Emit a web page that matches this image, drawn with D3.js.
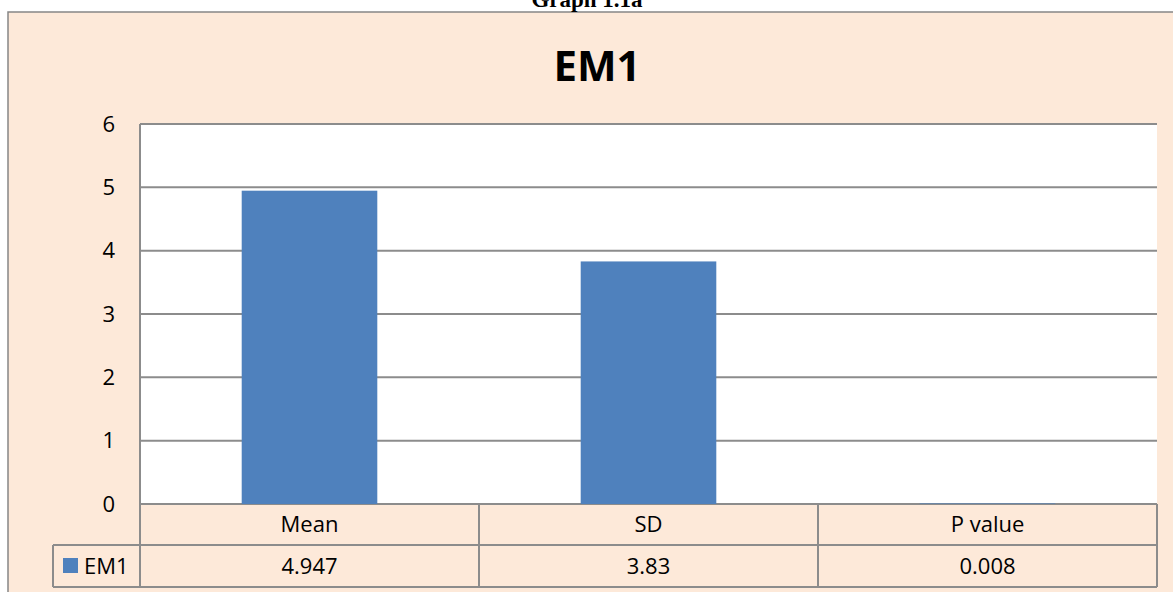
<!DOCTYPE html>
<html>
<head>
<meta charset="utf-8">
<script src="https://cdn.jsdelivr.net/npm/d3@7"></script>
<style>
  body { margin: 0; background: #fff; }
  text { font-family: "Open Sans", "Noto Sans", sans-serif; fill: #000; }
</style>
</head>
<body>
<div id="chart"></div>
<script>
// ---- data
var categories = ["Mean", "SD", "P value"];
var seriesName = "EM1";
var values = [4.947, 3.83, 0.008];
var valueLabels = ["4.947", "3.83", "0.008"];
var yTicks = [0, 1, 2, 3, 4, 5, 6];

var width = 1173, height = 592;
var plotL = 140, plotR = 1157, plotT = 124, plotB = 504;
var row1 = 545, row2 = 587, legL = 53;
var lineCol = "#8c8c8c";

var svg = d3.select("#chart").append("svg")
  .attr("width", width).attr("height", height);

// outer chart area
svg.append("rect")
  .attr("x", 8).attr("y", 12)
  .attr("width", 1180).attr("height", 600)
  .attr("fill", "#fde9d9")
  .attr("stroke", "#868686").attr("stroke-width", 1.5);

// caption above the chart (cut off at top in the original too)
svg.append("text")
  .attr("x", 587).attr("y", 7)
  .attr("text-anchor", "middle")
  .style("font-family", "'Liberation Serif', serif")
  .style("font-weight", "bold")
  .style("font-size", "23px")
  .text("Graph 1.1a");

// title
svg.append("text")
  .attr("x", 597).attr("y", 81)
  .attr("text-anchor", "middle")
  .style("font-weight", "bold")
  .style("font-size", "42px")
  .text(seriesName);

// scales
var x = d3.scaleBand().domain(categories)
  .range([plotL, plotR]).paddingInner(0.6).paddingOuter(0.3);
var xCol = d3.scaleBand().domain(categories).range([plotL, plotR]).padding(0);
var y = d3.scaleLinear().domain([0, 6]).range([plotB, plotT]);

// plot area
svg.append("rect")
  .attr("x", plotL).attr("y", plotT)
  .attr("width", plotR - plotL).attr("height", plotB - plotT)
  .attr("fill", "#fff");

// gridlines
svg.append("g").selectAll("line")
  .data(yTicks).join("line")
  .attr("x1", plotL).attr("x2", plotR)
  .attr("y1", d => y(d)).attr("y2", d => y(d))
  .attr("stroke", lineCol).attr("stroke-width", 2);

// left axis line
svg.append("line")
  .attr("x1", plotL).attr("x2", plotL)
  .attr("y1", plotT).attr("y2", row2)
  .attr("stroke", lineCol).attr("stroke-width", 2);

// y axis labels
var yAxis = d3.axisLeft(y).tickValues(yTicks).tickSize(0).tickPadding(25)
  .tickFormat(d3.format("d"));
var ya = svg.append("g").attr("transform", "translate(" + plotL + ",0)").call(yAxis);
ya.select(".domain").remove();
ya.selectAll("text")
  .style("font-family", "'Open Sans', sans-serif")
  .style("font-size", "22px").attr("fill", "#000");

// bars
svg.append("g").selectAll("rect")
  .data(values).join("rect")
  .attr("x", (d, i) => x(categories[i]))
  .attr("width", x.bandwidth())
  .attr("y", d => y(d))
  .attr("height", d => y(0) - y(d))
  .attr("fill", "#4f81bd");

// data table
var tbl = svg.append("g");
tbl.append("line").attr("x1", legL).attr("x2", plotR).attr("y1", row1).attr("y2", row1)
  .attr("stroke", lineCol).attr("stroke-width", 2);
tbl.append("line").attr("x1", legL).attr("x2", plotR).attr("y1", row2).attr("y2", row2)
  .attr("stroke", lineCol).attr("stroke-width", 2);
tbl.append("line").attr("x1", legL).attr("x2", legL).attr("y1", row1).attr("y2", row2)
  .attr("stroke", lineCol).attr("stroke-width", 2);
tbl.selectAll("line.col")
  .data(categories).join("line").attr("class", "col")
  .attr("x1", d => xCol(d) + xCol.bandwidth()).attr("x2", d => xCol(d) + xCol.bandwidth())
  .attr("y1", plotB).attr("y2", row2)
  .attr("stroke", lineCol).attr("stroke-width", 2);

tbl.selectAll("text.cat")
  .data(categories).join("text").attr("class", "cat")
  .attr("x", d => xCol(d) + xCol.bandwidth() / 2)
  .attr("y", 532)
  .attr("text-anchor", "middle")
  .style("font-size", "22px")
  .text(d => d);

tbl.selectAll("text.val")
  .data(valueLabels).join("text").attr("class", "val")
  .attr("x", (d, i) => xCol(categories[i]) + xCol.bandwidth() / 2)
  .attr("y", 574)
  .attr("text-anchor", "middle")
  .style("font-size", "22px")
  .text(d => d);

// legend key
tbl.append("rect")
  .attr("x", 63).attr("y", 558).attr("width", 15).attr("height", 15)
  .attr("fill", "#4f81bd");
tbl.append("text")
  .attr("x", 84).attr("y", 574)
  .style("font-size", "22px")
  .text(seriesName);
</script>
</body>
</html>
